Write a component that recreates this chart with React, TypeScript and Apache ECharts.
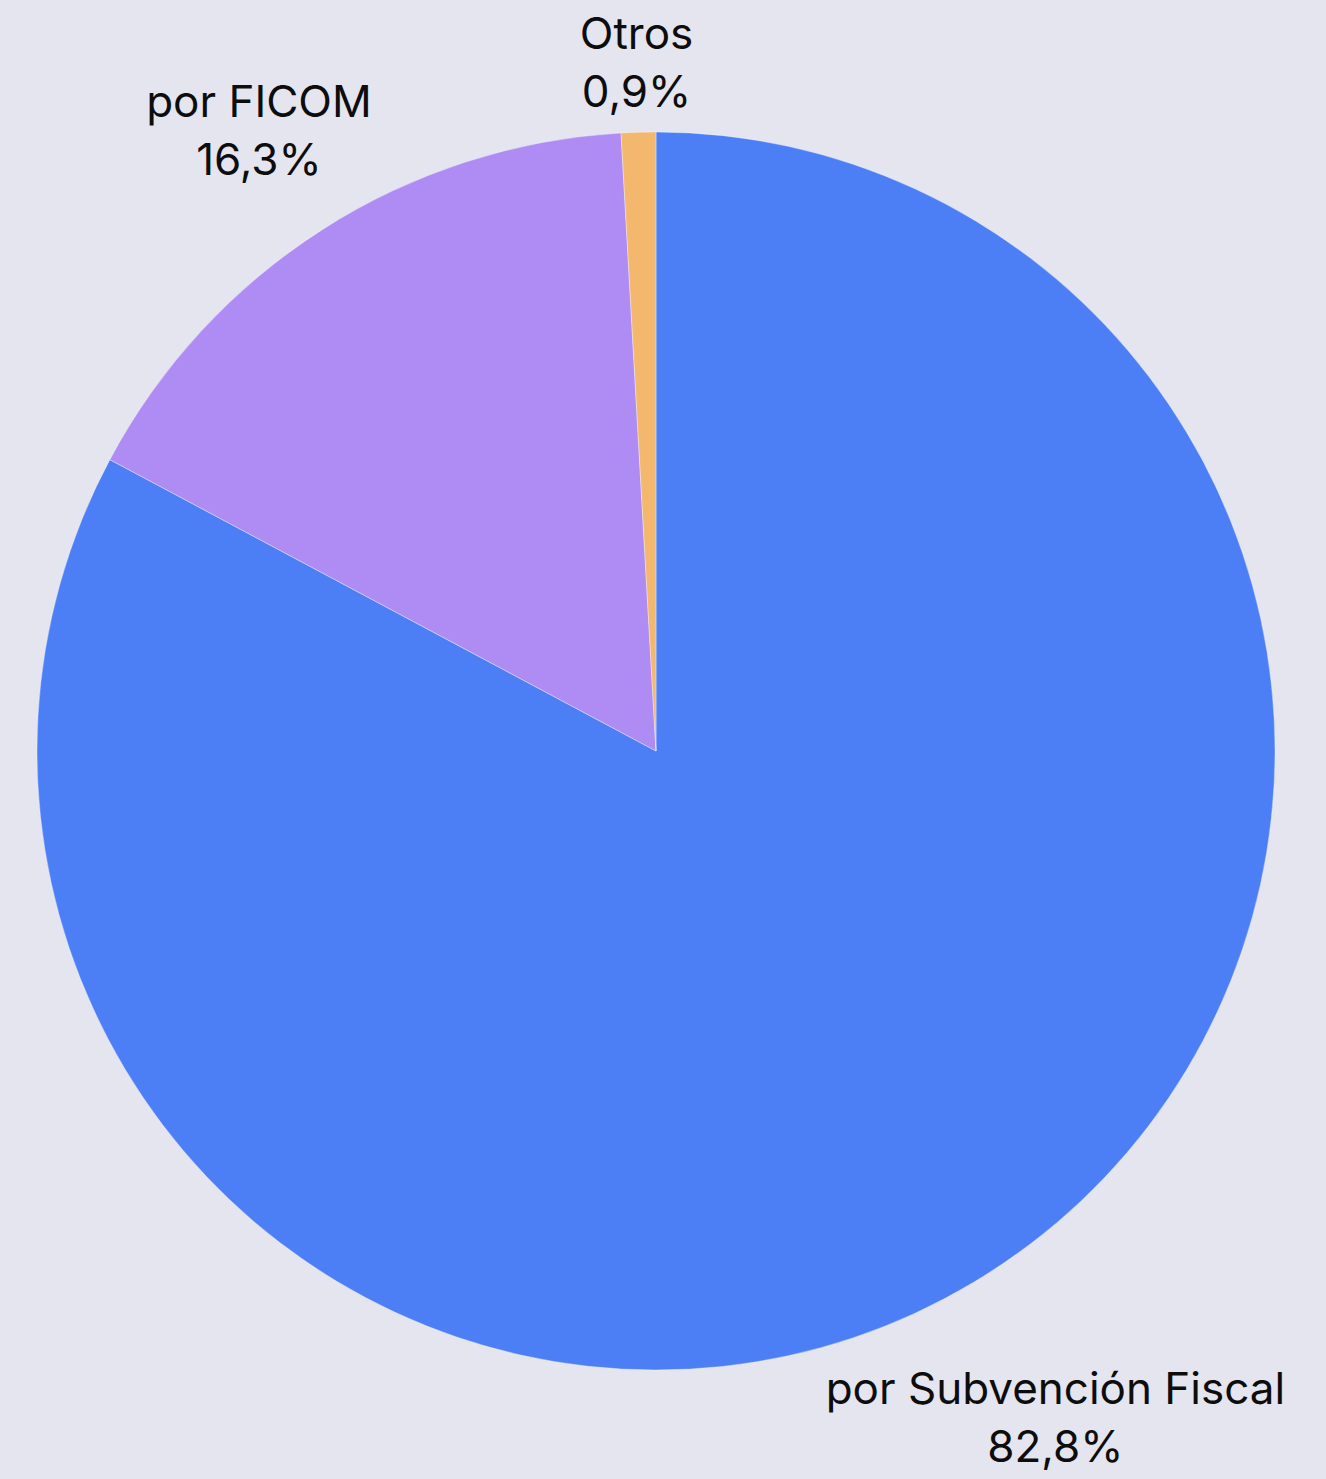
import React, { useEffect, useRef } from "react";
import * as echarts from "echarts";

const categories = ["por Subvención Fiscal", "por FICOM", "Otros"];
const values = [82.8, 16.3, 0.9];
const colors = ["#4c7ff6", "#ae8cf4", "#f3b86d"];

const W = 1326;
const H = 1479;
const CX = 656;
const CY = 751;
const R = 619;
const GAP = 12;

function fmt(v: number) {
  return v.toFixed(1).replace(".", ",") + "%";
}

export default function App() {
  const ref = useRef<HTMLDivElement>(null);
  useEffect(() => {
    if (!ref.current) return;
    const chart = echarts.init(ref.current, undefined, { renderer: "svg" });
    const total = values.reduce((a, b) => a + b, 0);
    const cum: number[] = [];
    let acc = 0;
    values.forEach((v) => {
      cum.push(acc + v / 2);
      acc += v;
    });
    chart.setOption({
      animation: false,
      backgroundColor: "#e4e5ef",
      series: [
        {
          type: "pie",
          center: [CX, CY],
          radius: R,
          startAngle: 90,
          clockwise: true,
          avoidLabelOverlap: false,
          data: categories.map((name, i) => ({
            name,
            value: values[i],
            itemStyle: { color: colors[i] },
          })),
          itemStyle: { borderColor: "rgba(255,255,255,0.35)", borderWidth: 1 },
          label: {
            show: true,
            position: "outside",
            formatter: (p: any) => `${p.name}\n${fmt(p.value)}`,
            fontFamily: "Inter",
            fontSize: 44,
            lineHeight: 58,
            color: "#0d0d0d",
            overflow: "none",
          },
          labelLine: { show: false },
          labelLayout: (params: any) => {
            const i = params.dataIndex;
            const theta = (2 * Math.PI * cum[i]) / total;
            const ux = Math.sin(theta);
            const uy = -Math.cos(theta);
            const hw = params.labelRect.width / 2;
            const hh = params.labelRect.height / 2;
            let lo = 0;
            let hi = 2000;
            for (let k = 0; k < 60; k++) {
              const d = (lo + hi) / 2;
              const bx = d * ux;
              const by = d * uy;
              const nx = Math.max(bx - hw, Math.min(0, bx + hw));
              const ny = Math.max(by - hh, Math.min(0, by + hh));
              const dist = Math.sqrt(nx * nx + ny * ny);
              if (dist < R + GAP) lo = d;
              else hi = d;
            }
            return {
              x: CX + hi * ux,
              y: CY + hi * uy,
              align: "center",
              verticalAlign: "middle",
            };
          },
        },
      ],
    });
    return () => chart.dispose();
  }, []);
  return (
    <div
      ref={ref}
      style={{ position: "absolute", left: 0, top: 0, width: W, height: H }}
    />
  );
}
